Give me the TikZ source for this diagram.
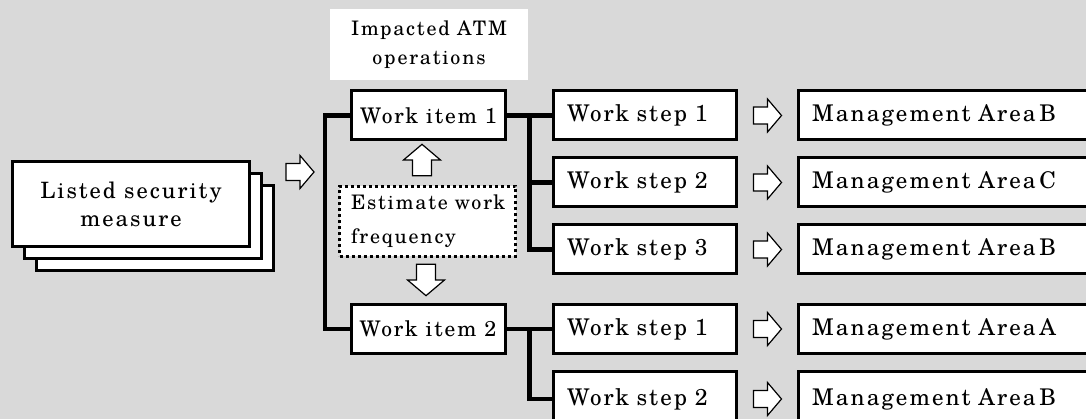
\documentclass[tikz,border=0pt]{standalone}
\usepackage{fontspec}
\setmainfont{texgyreschola-regular.otf}[LetterSpace=9]
\usetikzlibrary{calc}
\definecolor{bg}{RGB}{217,217,217}
\tikzset{
  x=1pt, y=-1pt,
  box/.style={rectangle, draw=black, fill=white, line width=3pt, inner ysep=0pt},
  stackbox/.style={box, minimum width=237pt, minimum height=85pt, align=center,
    font=\fontsize{22.5}{28}\selectfont},
  itembox/.style={box, minimum width=154pt, minimum height=49pt,
    font=\fontsize{21.5}{26}\selectfont},
  stepbox/.style={box, inner xsep=13.5pt, text width=156pt, minimum height=49pt,
    align=left, font=\fontsize{23}{28}\selectfont},
  areabox/.style={box, inner xsep=13.5pt, text width=270pt, minimum height=49pt,
    align=left, font=\fontsize{23}{28}\selectfont},
  notebox/.style={rectangle, fill=white, minimum width=198pt, minimum height=71pt,
    inner sep=0pt, align=center, font=\fontsize{20}{29}\selectfont},
  estbox/.style={rectangle, draw=black, fill=white, line width=3pt,
    dash pattern=on 3pt off 3pt, inner xsep=11.5pt, inner ysep=0pt,
    text width=153pt, minimum height=70pt, align=left,
    font=\fontsize{20}{34}\selectfont},
  link/.style={line width=4.5pt, line join=miter},
  pics/blockarrow/.style={code={
    \draw[line width=1.2pt, fill=white, line join=miter]
      (-14,-8.5) -- (0,-8.5) -- (0,-16.5) -- (14,0) -- (0,16.5) -- (0,8.5) -- (-14,8.5) -- cycle;
  }}
}
\begin{document}
\begin{tikzpicture}
  \useasboundingbox (0,0) rectangle (1086,419);
  \fill[bg] (0,0) rectangle (1086,419);
  \clip (0,0) rectangle (1086,419);

  % stacked sheets of the security measure
  \node[stackbox] (L3) at (155,228.5) {};
  \node[stackbox] (L2) at (143,216) {};
  \node[stackbox] (L1) at (131,204.5) {Listed security\\measure};

  % work items and their note boxes
  \node[notebox] (imp) at (429,44.5) {Impacted ATM\\operations};
  \node[itembox] (item1) at (428.5,115.5) {Work item 1};
  \node[itembox] (item2) at (428,329) {Work item 2};
  \node[estbox] (est) at (427.5,221.5) {\mbox{Estimate work}\\\mbox{frequency}};

  % work steps
  \node[stepbox] (s1) at (645,115.5) {Work step 1};
  \node[stepbox] (s2) at (645,182.5) {Work step 2};
  \node[stepbox] (s3) at (645,249.5) {Work step 3};
  \node[stepbox] (s4) at (645,329) {Work step 1};
  \node[stepbox, minimum height=56pt] (s5) at (645,399) {Work step 2};

  % management areas
  \node[areabox] (m1) at (947,115.5) {Management Area\,B};
  \node[areabox] (m2) at (947,182.5) {Management Area\,C};
  \node[areabox] (m3) at (947,249.5) {Management Area\,B};
  \node[areabox] (m4) at (947,329) {Management Area\,A};
  \node[areabox, minimum height=56pt] (m5) at (947,399) {Management Area\,B};

  % bracket joining the two work items
  \draw[link] (item1.west) -- ++(-25,0) coordinate (brk) |- (item2.west);

  % branches from work items to work steps
  \draw[link] (item1.east) -- (s1.west);
  \coordinate (b1) at ($(item1.east)!0.5!(s1.west)$);
  \draw[link] (b1) |- (s2.west);
  \draw[link] (b1) |- (s3.west);
  \draw[link] (item2.east) -- (s4.west);
  \coordinate (b2) at ($(item2.east)!0.5!(s4.west)$);
  \draw[link] (b2) |- (s5.west);

  % hollow block arrows
  \pic at ($(L3.east)!0.5!(brk)$ |- 0,166) {blockarrow};
  \pic[rotate=90, scale=1.12] at (422,160) {blockarrow};
  \pic[rotate=-90, scale=1.12] at (426,280) {blockarrow};
  \pic at ($(s1.east)!0.5!(m1.west)$) {blockarrow};
  \pic at ($(s2.east)!0.5!(m2.west)$) {blockarrow};
  \pic at ($(s3.east)!0.5!(m3.west)$) {blockarrow};
  \pic at ($(s4.east)!0.5!(m4.west)$) {blockarrow};
  \pic at ($(s5.east)!0.5!(m5.west)$ |- 0,394) {blockarrow};
\end{tikzpicture}
\end{document}
